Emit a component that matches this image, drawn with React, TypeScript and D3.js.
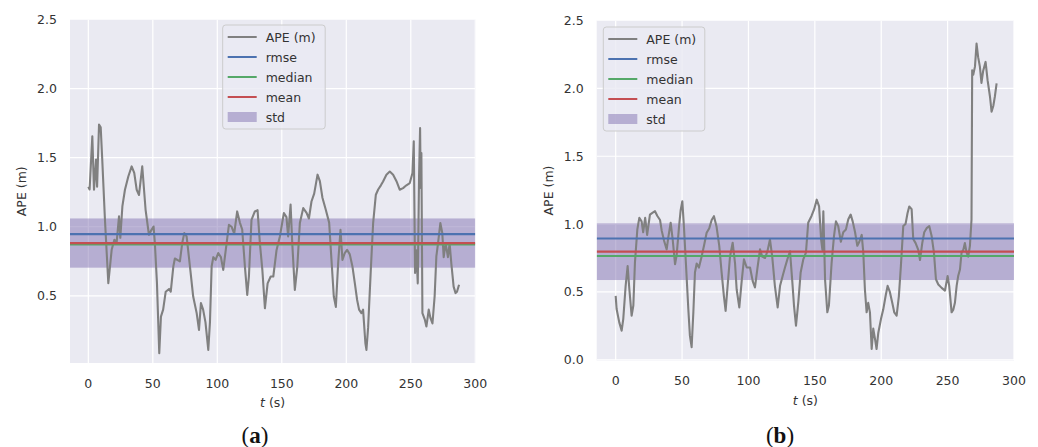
import * as React from "react"
import * as d3 from "d3"

const W = 1038
const H = 447

// panel (a) APE samples
const tA = [0, 1, 3.1, 4.4, 6, 6.8, 8.3, 9.6, 10.8, 12.9, 15.5, 18.1, 20.2, 22, 23.8, 24.8, 26.4, 28.4, 31, 33.6, 35.6, 37.5, 39.3, 41.8, 44.4, 47, 48.5, 50.6, 51.6, 53.2, 55, 56.3, 58, 60, 62.6, 63.9, 65.9, 67.1, 71, 72.8, 74.4, 76.2, 78.8, 81.3, 84, 85.8, 87.3, 89, 90.8, 93, 94.3, 95.6, 96.9, 98.7, 100.7, 102.8, 104.6, 107.2, 109, 111.1, 113.1, 115.4, 117.5, 119.3, 121.4, 123.2, 124.5, 126.5, 129.1, 131.2, 133, 134.9, 136.9, 139, 141.4, 143.4, 145.9, 148.5, 151.6, 153.6, 154.9, 156.8, 158.1, 160.1, 162, 164, 166.6, 169.2, 171, 173, 175.1, 177.7, 179.5, 181.5, 184.1, 186.7, 188.5, 190.3, 191.9, 193.7, 195.5, 197, 198.8, 200.6, 202.7, 204.8, 206.6, 208.4, 209.9, 211.7, 213, 214.8, 215.6, 216.9, 219, 220.8, 222.9, 224.7, 226.8, 228.5, 231.1, 233.7, 236.3, 238.9, 241.4, 244, 246.6, 249.2, 251.3, 252.3, 253.3, 254.3, 255.4, 256.4, 257.2, 257.7, 258.2, 259, 260.8, 262.1, 263.9, 265.2, 266.8, 268.5, 269.8, 271.1, 272.9, 274.4, 275.5, 277, 278.8, 280.1, 281.4, 283.2, 284.7, 285.8, 287.4]
const apeA = [1.29, 1.27, 1.654, 1.268, 1.486, 1.29, 1.739, 1.72, 1.486, 1.05, 0.592, 0.833, 0.906, 0.89, 1.075, 0.92, 1.147, 1.268, 1.364, 1.437, 1.39, 1.268, 1.23, 1.437, 1.123, 0.942, 0.97, 1.002, 0.88, 0.594, 0.085, 0.35, 0.4, 0.53, 0.55, 0.53, 0.712, 0.77, 0.75, 0.882, 0.954, 0.93, 0.712, 0.495, 0.375, 0.254, 0.447, 0.4, 0.31, 0.109, 0.31, 0.712, 0.78, 0.76, 0.81, 0.78, 0.688, 0.88, 1.014, 1.0, 0.95, 1.111, 1.03, 0.98, 0.712, 0.507, 0.64, 1.05, 1.111, 1.12, 0.882, 0.69, 0.41, 0.59, 0.64, 0.64, 0.83, 0.93, 1.099, 1.07, 0.93, 1.16, 0.88, 0.543, 0.71, 1.027, 1.135, 1.1, 1.06, 1.183, 1.24, 1.377, 1.33, 1.21, 1.123, 1.03, 0.761, 0.495, 0.42, 0.74, 0.978, 0.76, 0.81, 0.833, 0.8, 0.71, 0.592, 0.47, 0.4, 0.375, 0.4, 0.157, 0.109, 0.27, 0.69, 1.027, 1.232, 1.27, 1.3, 1.328, 1.377, 1.4, 1.377, 1.33, 1.268, 1.28, 1.3, 1.316, 1.389, 1.618, 0.665, 0.83, 0.59, 1.37, 1.715, 1.28, 1.534, 0.375, 0.33, 0.278, 0.4, 0.34, 0.3, 0.5, 0.785, 0.88, 1.027, 0.955, 0.78, 0.88, 0.78, 0.88, 0.736, 0.567, 0.52, 0.53, 0.58]

// panel (b) APE samples
const tB = [0, 0.7, 2.7, 4.5, 5.7, 7.5, 9, 10.3, 12, 13.3, 14.5, 16.3, 17.8, 19.5, 20.7, 22.2, 23.7, 25.8, 27.9, 29.6, 31.4, 33.4, 34.7, 36.5, 38.4, 39.6, 41.4, 42.9, 44.7, 45.9, 47.7, 48.9, 50.2, 51.4, 52.9, 54.7, 55.9, 57.2, 58.5, 59.7, 61, 62.7, 64.7, 66.5, 68.5, 70.5, 72.3, 74, 76, 78, 79.8, 81.5, 82.8, 84.1, 86.1, 88.1, 89.9, 91.1, 93.1, 94.9, 96.6, 98.7, 101.2, 103.2, 104.9, 106.7, 108.7, 110.4, 112.5, 114.3, 116.2, 117.9, 119.9, 122, 123.8, 125.8, 127.5, 129.3, 131.3, 133, 134.3, 135.8, 137.6, 139.3, 141.3, 143.3, 145, 147.5, 149.5, 151.4, 153.2, 154.7, 155.7, 156.4, 157.7, 159.4, 160.6, 162.6, 164.4, 165.9, 167.6, 169.6, 171.4, 173.4, 175.2, 177, 178.5, 180.3, 182, 183.5, 185.3, 186.5, 187.7, 189, 190.2, 191.5, 192.8, 194, 195.3, 196.5, 197.8, 199.8, 201.5, 203.3, 204.8, 206.5, 208.3, 209.8, 211.6, 213.3, 214.8, 216.6, 218.3, 219.8, 221.1, 222.9, 224.1, 225.9, 227.9, 229.2, 230.9, 232.4, 234.2, 236.2, 238, 239.7, 241.2, 243, 245.5, 248, 250, 251.2, 253, 254.3, 255.5, 256.8, 258, 259.3, 260.5, 261.8, 263, 264.3, 265.5, 266.8, 268, 268.5, 269.3, 270.6, 271.8, 273, 274.3, 275.5, 276.8, 278.6, 280.1, 281.9, 283.1, 284.4, 285.6, 286.9]
const apeB = [0.471, 0.374, 0.276, 0.215, 0.3, 0.545, 0.69, 0.52, 0.325, 0.4, 0.716, 0.96, 1.046, 1.02, 0.94, 1.046, 0.92, 1.07, 1.085, 1.095, 1.06, 1.03, 0.95, 0.875, 0.814, 0.9, 1.01, 0.89, 0.704, 0.77, 0.98, 1.1, 1.168, 0.98, 0.71, 0.374, 0.178, 0.093, 0.35, 0.643, 0.71, 0.68, 0.76, 0.84, 0.936, 0.97, 1.03, 1.058, 0.98, 0.84, 0.643, 0.47, 0.361, 0.52, 0.76, 0.863, 0.71, 0.52, 0.386, 0.58, 0.74, 0.68, 0.68, 0.58, 0.533, 0.67, 0.814, 0.76, 0.75, 0.8, 0.887, 0.76, 0.545, 0.386, 0.545, 0.62, 0.68, 0.74, 0.8, 0.58, 0.4, 0.251, 0.43, 0.643, 0.74, 0.79, 1.01, 1.06, 1.11, 1.18, 1.13, 0.89, 0.81, 1.095, 0.59, 0.35, 0.4, 0.71, 0.91, 1.02, 0.985, 0.87, 0.94, 0.96, 1.035, 1.07, 1.02, 0.94, 0.84, 0.87, 0.92, 0.79, 0.52, 0.35, 0.42, 0.35, 0.081, 0.23, 0.154, 0.08, 0.2, 0.3, 0.37, 0.47, 0.545, 0.5, 0.42, 0.35, 0.325, 0.47, 0.69, 0.985, 1.0, 1.08, 1.13, 1.11, 0.89, 0.86, 0.81, 0.735, 0.86, 0.94, 0.97, 0.985, 0.91, 0.79, 0.594, 0.555, 0.53, 0.51, 0.618, 0.545, 0.35, 0.37, 0.42, 0.545, 0.62, 0.665, 0.79, 0.81, 0.86, 0.79, 0.76, 0.84, 1.034, 2.133, 2.1, 2.16, 2.33, 2.23, 2.16, 2.04, 2.13, 2.195, 2.06, 1.94, 1.828, 1.87, 1.94, 2.036]

// statistics: rmse, median, mean, and std around the mean
const statNames = ["rmse", "median", "mean"]
const statColors = ["#4c72b0", "#55a868", "#c44e52"]
const statsA = [0.947, 0.873, 0.882]
const stdA = 0.178
const statsB = [0.894, 0.765, 0.797]
const stdB = 0.209

const xTicks = [0, 50, 100, 150, 200, 250, 300]
const yTicksA = [0.5, 1.0, 1.5, 2.0, 2.5]
const yTicksB = [0.0, 0.5, 1.0, 1.5, 2.0, 2.5]

const FONT = "'DejaVu Sans', sans-serif"
const TXT = "#333333"
const BG = "#eaeaf2"
const BAND = "#8172b2"

function Panel(props) {
  const { box, xDom, yDom, t, ape, stats, std, yTicks, legend, caption, captionX } = props
  const x = d3.scaleLinear().domain(xDom).range([box.l, box.r])
  const y = d3.scaleLinear().domain(yDom).range([box.b, box.t])
  const line = d3
    .line()
    .x(d => x(d[0]))
    .y(d => y(d[1]))
  const pts = t.map((v, i) => [v, ape[i]])
  const mean = stats[2]
  const cx = (box.l + box.r) / 2
  const clipId = "clip" + caption

  const entries = ["APE (m)", ...statNames, "std"]
  const entryColors = ["#808080", ...statColors]

  return (
    <g>
      <defs>
        <clipPath id={clipId}>
          <rect x={box.l} y={box.t} width={box.r - box.l} height={box.b - box.t} />
        </clipPath>
      </defs>
      <rect x={box.l} y={box.t} width={box.r - box.l} height={box.b - box.t} fill={BG} />
      <g clipPath={`url(#${clipId})`}>
        {xTicks.map(v => (
          <line key={"gx" + v} x1={x(v)} x2={x(v)} y1={box.t} y2={box.b} stroke="#fff" strokeWidth={1.2} />
        ))}
        {yTicks.map(v => (
          <line key={"gy" + v} x1={box.l} x2={box.r} y1={y(v)} y2={y(v)} stroke="#fff" strokeWidth={1.2} />
        ))}
        <rect
          x={box.l}
          width={box.r - box.l}
          y={y(mean + std)}
          height={y(mean - std) - y(mean + std)}
          fill={BAND}
          fillOpacity={0.5}
        />
        <path d={line(pts)} fill="none" stroke="#808080" strokeWidth={2.1} strokeLinejoin="round" />
        {stats.map((v, i) => (
          <line key={"s" + i} x1={box.l} x2={box.r} y1={y(v)} y2={y(v)} stroke={statColors[i]} strokeWidth={2.2} />
        ))}
      </g>

      {xTicks.map(v => (
        <text key={"tx" + v} x={x(v)} y={box.b + 24.5} textAnchor="middle" fontSize={12.5} fontFamily={FONT} fill={TXT}>
          {v}
        </text>
      ))}
      {yTicks.map(v => (
        <text key={"ty" + v} x={box.l - 13} y={y(v) + 4.5} textAnchor="end" fontSize={12.5} fontFamily={FONT} fill={TXT}>
          {v.toFixed(1)}
        </text>
      ))}
      <text x={cx} y={box.b + 44} textAnchor="middle" fontSize={12.5} fontFamily={FONT} fill={TXT}>
        <tspan fontStyle="italic">t</tspan> (s)
      </text>
      <text
        transform={`translate(${box.l - 44},${(box.t + box.b) / 2}) rotate(-90)`}
        textAnchor="middle"
        fontSize={12.5}
        fontFamily={FONT}
        fill={TXT}
      >
        APE (m)
      </text>

      <rect
        x={legend.x}
        y={legend.y}
        width={legend.w}
        height={104}
        rx={3}
        fill={BG}
        fillOpacity={0.8}
        stroke="#cccccc"
        strokeWidth={1}
      />
      {entries.map((name, i) => {
        const ly = legend.y + 12 + i * 20
        return (
          <g key={name}>
            {i < 4 ? (
              <line x1={legend.x + 5} x2={legend.x + 34} y1={ly} y2={ly} stroke={entryColors[i]} strokeWidth={2} />
            ) : (
              <rect x={legend.x + 5} y={ly - 5} width={29} height={10} fill={BAND} fillOpacity={0.5} />
            )}
            <text x={legend.x + 43} y={ly + 4.5} fontSize={12.5} fontFamily={FONT} fill={TXT}>
              {name}
            </text>
          </g>
        )
      })}

      <text
        x={captionX}
        y={443}
        textAnchor="middle"
        fontSize={23}
        fontFamily="'Liberation Serif', 'DejaVu Serif', serif"
        fill="#111"
      >
        (<tspan fontWeight="bold">{caption}</tspan>)
      </text>
    </g>
  )
}

export default function App() {
  return (
    <svg width={W} height={H} style={{ position: "absolute", left: 0, top: 0, background: "#fff" }}>
      <Panel
        box={{ l: 70, r: 475.3, t: 19.5, b: 363 }}
        xDom={[-14.2, 300]}
        yDom={[0.014, 2.5]}
        t={tA}
        ape={apeA}
        stats={statsA}
        std={stdA}
        yTicks={yTicksA}
        legend={{ x: 222.7, y: 25, w: 102.5 }}
        caption="a"
        captionX={255}
      />
      <Panel
        box={{ l: 596.7, r: 1014, t: 20.5, b: 360.5 }}
        xDom={[-14.3, 300]}
        yDom={[-0.005, 2.5]}
        t={tB}
        ape={apeB}
        stats={statsB}
        std={stdB}
        yTicks={yTicksB}
        legend={{ x: 603.3, y: 27, w: 101.5 }}
        caption="b"
        captionX={780}
      />
    </svg>
  )
}
